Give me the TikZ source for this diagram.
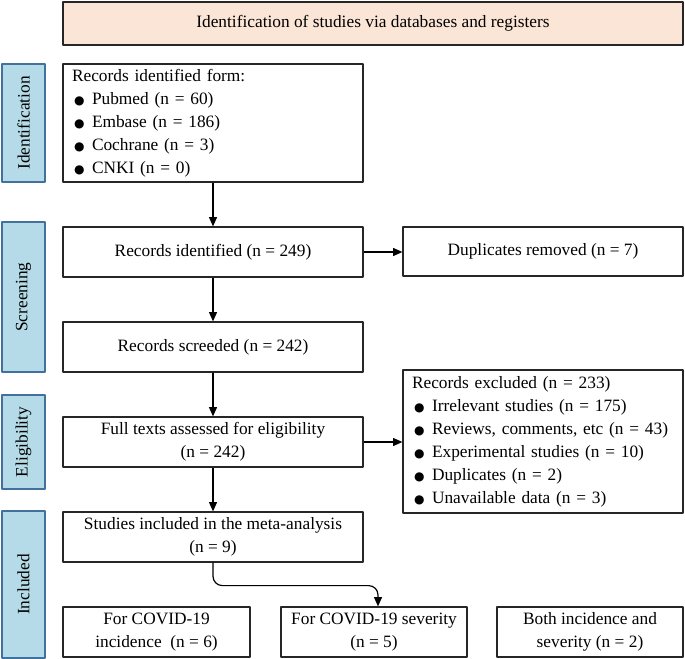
\documentclass[tikz,border=0pt]{standalone}
\usepackage{fontspec}
\setmainfont{Liberation Serif}
\newfontfamily\dotfont{DejaVu Sans}
\usepackage{tikz}
\usetikzlibrary{arrows.meta}
\usetikzlibrary{shapes}
\definecolor{peach}{RGB}{251,229,214}
\definecolor{sideblue}{RGB}{180,219,231}
\definecolor{sideedge}{RGB}{65,113,156}
\newcommand{\dotitem}{\makebox[15pt][l]{\hspace{1.5pt}{\dotfont\fontsize{9}{9}\selectfont ●}}}

\begin{document}
\begin{tikzpicture}[x=0.75pt,y=-0.75pt,line join=round,
  font=\fontsize{13}{17.25}\selectfont,
  box/.style={draw=black!85,line width=.9pt,fill=white,inner sep=0pt,align=center},
  listbox/.style={box,align=left,inner xsep=6.75pt},
  sidebar/.style={draw=sideedge,line width=.9pt,fill=sideblue,rotate=90,minimum height=32.25pt,inner sep=0pt},
  arr/.style={-{Triangle[length=7pt,width=6pt]},line width=.9pt}]
\useasboundingbox (0,0) rectangle (685,659);
% header and phase bars
\node[box,fill=peach,minimum width=465pt,minimum height=32.25pt] (head) at (373,23.5) {Identification of studies via databases and registers};
\node[sidebar,minimum width=88.5pt] (sideid) at (23.5,123) {Identification};
\node[sidebar,minimum width=112.5pt] (sidescr) at (23.5,297) {Screening};
\node[sidebar,minimum width=70.5pt] (sideelig) at (23.5,442) {Eligibility};
\node[sidebar,minimum width=110.25pt] (sideincl) at (23.5,584.5) {Included};
% main column
\node[listbox,text width=211.5pt,minimum height=88.5pt] (recform) at (213,123) {Records identified form:\\
  \dotitem Pubmed (n = 60)\\
  \dotitem Embase (n = 186)\\
  \dotitem Cochrane (n = 3)\\
  \dotitem CNKI (n = 0)};
\node[box,minimum width=225pt,minimum height=37.5pt] (recid) at (213,252) {Records identified (n = 249)};
\node[box,minimum width=225pt,minimum height=37.5pt] (screen) at (213,347) {Records screeded (n = 242)};
\node[box,minimum width=225pt,minimum height=37.5pt] (full) at (213,442) {Full texts assessed for eligibility\\(n = 242)};
\node[box,minimum width=225pt,minimum height=37.5pt] (incl) at (213,537) {Studies included in the meta-analysis\\(n = 9)};
% right column
\node[box,minimum width=210pt,minimum height=36.75pt] (dup) at (543,251.5) {Duplicates removed (n = 7)};
\node[listbox,text width=196.5pt,minimum height=107.25pt] (excl) at (543,441.5) {Records excluded (n = 233)\\
  \dotitem Irrelevant studies (n = 175)\\
  \dotitem Reviews, comments, etc (n = 43)\\
  \dotitem Experimental studies (n = 10)\\
  \dotitem Duplicates (n = 2)\\
  \dotitem Unavailable data (n = 3)};
% bottom row
\node[box,minimum width=140.25pt,minimum height=37.5pt] (inc) at (156.5,632) {For COVID-19\\incidence~ (n = 6)};
\node[box,minimum width=139.5pt,minimum height=37.5pt] (sev) at (374,632) {For COVID-19 severity\\(n = 5)};
\node[box,minimum width=139.5pt,minimum height=37.5pt] (both) at (590,632) {Both incidence and\\severity (n = 2)};
% arrows
\draw[arr] (recform) -- (recid);
\draw[arr] (recid.east) -- (recid.east -| dup.west);
\draw[arr] (recid) -- (screen);
\draw[arr] (screen) -- (full);
\draw[arr] (full.east) -- (full.east -| excl.west);
\draw[arr] (full) -- (incl);
\draw[arr,rounded corners=7pt] (incl.south) -- ++(0,23) -| ([xshift=3pt]sev.north);
\end{tikzpicture}
\end{document}
